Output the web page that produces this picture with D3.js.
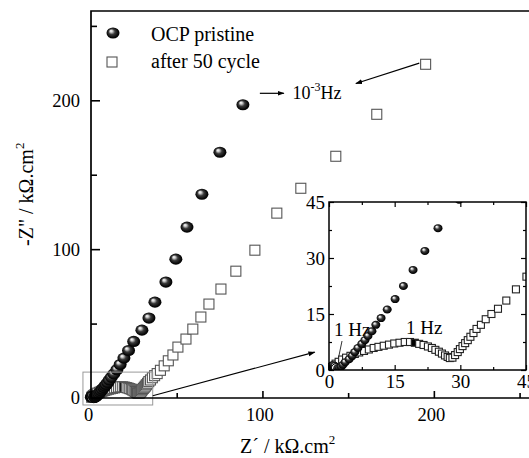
<!DOCTYPE html>
<html lang="en">
<head>
<meta charset="UTF-8">
<title>Nyquist plot</title>
<style>
  body { margin: 0; background: #fff; }
  svg { display: block; font-family: "Liberation Serif", "DejaVu Serif", serif; }
  .tick text { font-family: "Liberation Serif", serif; fill: #000; }
  .tick line { stroke: #000; }
</style>
</head>
<body>
<svg width="529" height="458"></svg>
<script src="https://cdn.jsdelivr.net/npm/d3@7/dist/d3.min.js"></script>
<script>
// impedance values, kOhm.cm2
const ocpRe = [0.2, 0.4, 0.7, 1.0, 1.3, 1.6, 2.0, 2.4, 2.8, 3.2, 3.7, 4.6, 5.3, 5.9, 6.6, 7.5, 8.2, 8.9, 9.8, 10.7,
  11.9, 13.3, 15.1, 17.0, 19.2, 21.9, 24.9, 29.7, 33.8, 37.3, 43.7, 49.5, 56.0, 64.7, 75.2, 88.6];
const ocpIm = [0.5, 0.9, 1.2, 1.3, 1.1, 0.6, 0.5, 0.6, 0.9, 1.4, 2.1, 2.9, 3.8, 4.8, 5.9, 7.0, 8.0, 9.1, 10.4, 12.1,
  13.9, 16.2, 19.0, 22.5, 26.8, 31.9, 38.0, 45.6, 53.7, 64.4, 77.9, 93.3, 114.8, 136.9, 165.1, 197.0];
const ocp1Hz = 5;

const cycRe = [0.4, 0.9, 1.5, 2.2, 3.0, 3.9, 4.9, 5.9, 6.9, 8.0, 9.1, 10.2, 11.3, 12.5, 13.7, 14.9, 16.1, 17.3, 18.5, 19.6,
  20.6, 21.6, 22.6, 23.5, 24.3, 25.1, 25.8, 26.5, 27.1, 27.6, 28.2, 28.8, 29.4, 29.9, 30.5, 31.1, 31.7, 32.3, 33.0, 33.7,
  34.7, 35.8, 37.1, 38.6, 40.5, 42.7, 45.1, 47.8, 50.7, 55.4, 59.4, 64.1, 68.8, 75.8, 84.5, 95.6, 108.4, 122.4, 142.8, 166.7, 195.2];
const cycIm = [0.5, 1.1, 1.7, 2.2, 2.8, 3.3, 3.8, 4.3, 4.7, 5.1, 5.5, 5.9, 6.2, 6.5, 6.8, 7.1, 7.3, 7.5, 7.5, 7.3,
  7.0, 6.7, 6.3, 5.9, 5.4, 4.9, 4.4, 3.9, 3.5, 3.2, 3.3, 4.0, 4.8, 5.6, 6.4, 7.2, 8.0, 8.9, 9.9, 11.0,
  12.1, 13.6, 15.0, 16.4, 18.6, 21.6, 25.0, 28.9, 34.2, 39.6, 46.3, 54.4, 63.1, 73.2, 85.2, 99.3, 124.2, 140.9, 162.4, 190.6, 224.2];
const cyc1Hz = 19;

const mainTicks = [0, 100, 200];
const mainMinor = [50, 150, 250];
const insetTicks = [0, 15, 30, 45];
const insetMinor = [7.5, 22.5, 37.5];

const ocp = ocpRe.map((v, i) => ({re: v, im: ocpIm[i], hz: i === ocp1Hz}));
const cyc = cycRe.map((v, i) => ({re: v, im: cycIm[i], hz: i === cyc1Hz}));

const svg = d3.select("svg");
const x = d3.scaleLinear().domain([0, 255.5]).range([91, 529]);
const y = d3.scaleLinear().domain([0, 260]).range([398, 11]);
const ix = d3.scaleLinear().domain([0, 45]).range([329, 526]);
const iy = d3.scaleLinear().domain([0, 45]).range([370, 202]);

const defs = svg.append("defs");
const grad = defs.append("radialGradient").attr("id", "ball")
  .attr("cx", "50%").attr("cy", "50%").attr("r", "55%").attr("fx", "33%").attr("fy", "30%");
grad.append("stop").attr("offset", "0%").attr("stop-color", "#ffffff");
grad.append("stop").attr("offset", "18%").attr("stop-color", "#cfcfcf");
grad.append("stop").attr("offset", "45%").attr("stop-color", "#3a3a3a");
grad.append("stop").attr("offset", "80%").attr("stop-color", "#080808");
grad.append("stop").attr("offset", "100%").attr("stop-color", "#000");

defs.append("marker").attr("id", "head")
  .attr("viewBox", "0 0 10 10").attr("refX", 9).attr("refY", 5)
  .attr("markerWidth", 7).attr("markerHeight", 7).attr("orient", "auto")
  .attr("markerUnits", "userSpaceOnUse")
  .append("path").attr("d", "M0,1.5 L10,5 L0,8.5 Z").attr("fill", "#000");

defs.append("clipPath").attr("id", "insetClip")
  .append("rect").attr("x", ix(0) - 1).attr("y", iy(45))
  .attr("width", ix(45) - ix(0) + 1).attr("height", iy(0) - iy(45));

function squares(g, data, sx, sy, size, stroke) {
  g.selectAll(null).data(data).join("rect")
    .attr("x", d => sx(d.re) - size / 2)
    .attr("y", d => sy(d.im) - size / 2)
    .attr("width", size).attr("height", size)
    .attr("fill", d => d.hz ? "#000" : "#fff")
    .attr("stroke", stroke).attr("stroke-width", 1.1);
}
function balls(g, data, sx, sy, rx, ry) {
  g.selectAll(null).data(data).join("ellipse")
    .attr("cx", d => sx(d.re)).attr("cy", d => sy(d.im))
    .attr("rx", rx).attr("ry", ry)
    .attr("fill", d => d.hz ? "#fff" : "url(#ball)")
    .attr("stroke", d => d.hz ? "#000" : "none")
    .attr("stroke-width", 1);
}

// main plot
const main = svg.append("g");
squares(main, cyc, x, y, 10, "#555");
balls(main, ocp, x, y, 6.5, 5.6);

// zoom box round the origin
main.append("rect")
  .attr("x", x(-4.7)).attr("y", y(17.4))
  .attr("width", x(36) - x(-4.7)).attr("height", y(-4.7) - y(17.4))
  .attr("fill", "none").attr("stroke", "#999").attr("stroke-width", 1);

// axes of main plot
const axL = d3.axisLeft(y).tickValues(mainTicks).tickSize(-9).tickPadding(11).tickSizeOuter(0);
const axLm = d3.axisLeft(y).tickValues(mainMinor).tickSize(-6).tickFormat("").tickSizeOuter(0);
const axB = d3.axisBottom(x).tickValues(mainTicks).tickSize(-7).tickPadding(10).tickSizeOuter(0);
const axBm = d3.axisBottom(x).tickValues(mainMinor).tickSize(-5).tickFormat("").tickSizeOuter(0);
[[axL, "translate(91,0)"], [axLm, "translate(91,0)"], [axB, "translate(0,398)"], [axBm, "translate(0,398)"]]
  .forEach(([a, t]) => {
    const g = svg.append("g").attr("transform", t).call(a);
    g.select(".domain").remove();
    g.selectAll(".tick line").attr("stroke-width", 1.6);
    g.selectAll(".tick text").attr("font-size", 18.5);
  });
svg.selectAll(".tick text").filter(function() { return this.parentNode.parentNode.getAttribute("transform") === "translate(0,398)"; })
  .attr("dx", -3);

svg.append("path")
  .attr("d", `M529,${y(260)} H${x(0)} V${y(0)} H529`)
  .attr("fill", "none").attr("stroke", "#000").attr("stroke-width", 1.7);

// legend
balls(svg.append("g"), [{re: 0, im: 0}], () => 113, () => 33, 6.5, 5.6);
svg.append("rect").attr("x", 107).attr("y", 57).attr("width", 10).attr("height", 10)
  .attr("fill", "#fff").attr("stroke", "#555").attr("stroke-width", 1.1);
svg.append("text").attr("x", 151).attr("y", 41).attr("font-size", 20).text("OCP pristine");
svg.append("text").attr("x", 151).attr("y", 68).attr("font-size", 20).text("after 50 cycle");

// 10^-3 Hz notes
const arrow = (x1, y1, x2, y2, w) => svg.append("line")
  .attr("x1", x1).attr("y1", y1).attr("x2", x2).attr("y2", y2)
  .attr("stroke", "#000").attr("stroke-width", w || 1.2).attr("marker-end", "url(#head)");
arrow(x(98.5), y(204.7), x(112.5), y(204.7));
arrow(x(191.5), y(225), x(154.5), y(211.3));
const lf = svg.append("text").attr("x", x(117.5)).attr("y", y(201)).attr("font-size", 18);
lf.append("tspan").text("10");
lf.append("tspan").attr("font-size", 12).attr("dy", -8).text("-3");
lf.append("tspan").attr("dy", 8).text("Hz");

// axis titles
const xt = svg.append("text").attr("x", 240).attr("y", 453).attr("font-size", 20);
xt.append("tspan").text("Z\u00b4 / k\u03a9.cm");
xt.append("tspan").attr("font-size", 13).attr("dy", -9).text("2");
const yt = svg.append("text").attr("transform", "translate(33,246) rotate(-90)").attr("font-size", 20);
yt.append("tspan").text("-Z\" / k\u03a9.cm");
yt.append("tspan").attr("font-size", 13).attr("dy", -9).text("2");

// pointer from zoom box to inset
arrow(x(36), y(1.5), x(130.5), y(30.8), 1.2);

// inset
const inset = svg.append("g");
inset.append("rect").attr("x", ix(0)).attr("y", iy(45))
  .attr("width", ix(45) - ix(0)).attr("height", iy(0) - iy(45)).attr("fill", "#fff");
inset.append("text").attr("x", 334).attr("y", 336).attr("font-size", 19).text("1 Hz");
inset.append("text").attr("x", 406).attr("y", 334).attr("font-size", 19).text("1 Hz");
inset.append("line").attr("x1", 342).attr("y1", 341).attr("x2", 337).attr("y2", 365)
  .attr("stroke", "#000").attr("stroke-width", 0.8).attr("marker-end", "url(#head)");
const pts = inset.append("g").attr("clip-path", "url(#insetClip)");
squares(pts, cyc, ix, iy, 7, "#222");
balls(pts, ocp, ix, iy, 4.5, 4);

const iaxes = [
  [d3.axisLeft(iy).tickValues(insetTicks).tickSize(-5).tickPadding(4), `translate(${ix(0)},0)`, true],
  [d3.axisLeft(iy).tickValues(insetMinor).tickSize(-3).tickFormat(""), `translate(${ix(0)},0)`],
  [d3.axisBottom(ix).tickValues(insetTicks).tickSize(-5).tickPadding(5), `translate(0,${iy(0)})`, true],
  [d3.axisBottom(ix).tickValues(insetMinor).tickSize(-3).tickFormat(""), `translate(0,${iy(0)})`],
  [d3.axisTop(ix).tickValues(insetTicks).tickSize(-5).tickFormat(""), `translate(0,${iy(45)})`],
  [d3.axisTop(ix).tickValues(insetMinor).tickSize(-3).tickFormat(""), `translate(0,${iy(45)})`],
  [d3.axisRight(iy).tickValues(insetTicks).tickSize(-5).tickFormat(""), `translate(${ix(45)},0)`],
  [d3.axisRight(iy).tickValues(insetMinor).tickSize(-3).tickFormat(""), `translate(${ix(45)},0)`]
];
iaxes.forEach(([a, t]) => {
  const g = inset.append("g").attr("transform", t).call(a.tickSizeOuter(0));
  g.select(".domain").remove();
  g.selectAll(".tick line").attr("stroke-width", 1.2);
  g.selectAll(".tick text").attr("font-size", 19);
});
inset.append("rect").attr("x", ix(0)).attr("y", iy(45))
  .attr("width", ix(45) - ix(0)).attr("height", iy(0) - iy(45))
  .attr("fill", "none").attr("stroke", "#000").attr("stroke-width", 1.5);
</script>
</body>
</html>
